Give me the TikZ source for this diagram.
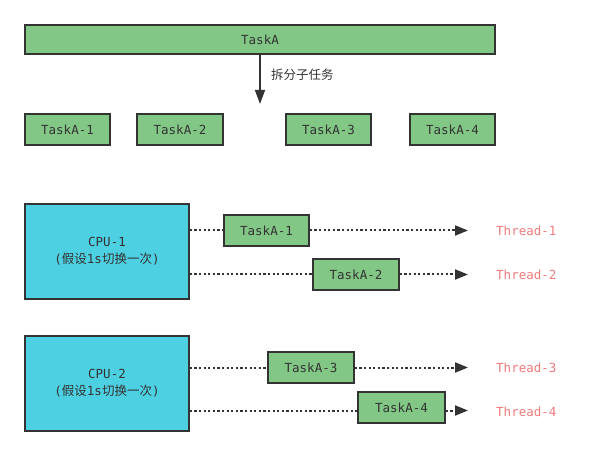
\documentclass[tikz,border=0pt]{standalone}
\usepackage{fontspec}
\setmonofont{DejaVu Sans Mono}
\newfontfamily\cjk{Noto Sans CJK SC}
\usetikzlibrary{arrows.meta}
\definecolor{tgreen}{HTML}{82C785}
\definecolor{tcyan}{HTML}{4DD0E1}
\definecolor{tdark}{HTML}{333333}
\definecolor{tred}{HTML}{EE7A7A}
\begin{document}
\begin{tikzpicture}[x=1pt,y=-1pt,
  box/.style={draw=tdark,line width=1.5pt,fill=tgreen,inner sep=0pt,
    font=\fontsize{12.5}{14}\selectfont\ttfamily,text=tdark},
  cpubox/.style={draw=tdark,line width=1.5pt,fill=tcyan,inner sep=0pt,
    font=\fontsize{12.5}{17}\selectfont\ttfamily,text=tdark,align=center},
  thr/.style={font=\fontsize{12.5}{14}\selectfont\ttfamily,text=tred,anchor=west,inner sep=0pt},
  dline/.style={draw=tdark,line width=2pt,dash pattern=on 2.2pt off 2.4pt},
  tip/.style={-{Triangle[length=13pt,width=10pt]}}
]
\useasboundingbox (0,0) rectangle (611,457);
% top
\node[box,minimum width=470pt,minimum height=29pt] (A) at (260,39.5) {TaskA};
\coordinate (Ad) at (260,104);
\draw[tdark,line width=1.5pt,-{Triangle[length=14pt,width=10pt]}] (A.south) -- (Ad);
\node[anchor=west,inner sep=0pt,text=tdark,font=\fontsize{12.5}{14}\selectfont\cjk] (split) at (271,75) {拆分子任务};
\node[box,minimum width=85pt,minimum height=31pt] (s1) at (67.5,129.5) {TaskA-1};
\node[box,minimum width=86pt,minimum height=31pt] (s2) at (180,129.5) {TaskA-2};
\node[box,minimum width=85pt,minimum height=31pt] (s3) at (328.5,129.5) {TaskA-3};
\node[box,minimum width=85pt,minimum height=31pt] (s4) at (452.5,129.5) {TaskA-4};
% CPU 1
\node[cpubox,minimum width=164pt,minimum height=95pt] (c1) at (107,251.5) {CPU-1\\({\cjk 假设}1s{\cjk 切换一次})};
\node[box,minimum width=85pt,minimum height=31pt] (t1) at (266.5,230.5) {TaskA-1};
\node[box,minimum width=86pt,minimum height=31pt] (t2) at (356,274.5) {TaskA-2};
\coordinate (e1) at (468,230.5);
\coordinate (e2) at (468,274.5);
\node[thr] (th1) at (496,231) {Thread-1};
\node[thr] (th2) at (496,275) {Thread-2};
\draw[dline] (c1.east |- t1.west) -- (t1.west);
\draw[dline,tip] (t1.east) -- (e1);
\draw[dline] (c1.east |- t2.west) -- (t2.west);
\draw[dline,tip] (t2.east) -- (e2);
% CPU 2
\node[cpubox,minimum width=164pt,minimum height=95pt] (c2) at (107,383.5) {CPU-2\\({\cjk 假设}1s{\cjk 切换一次})};
\node[box,minimum width=86pt,minimum height=31pt] (t3) at (311,367.5) {TaskA-3};
\node[box,minimum width=87pt,minimum height=31pt] (t4) at (401.5,407.5) {TaskA-4};
\coordinate (e3) at (468,367.5);
\coordinate (e4) at (468,410.5);
\node[thr] (th3) at (496,368) {Thread-3};
\node[thr] (th4) at (496,412) {Thread-4};
\draw[dline] (c2.east |- t3.west) -- (t3.west);
\draw[dline,tip] (t3.east) -- (e3);
\draw[dline] (c2.east |- e4) -- (t4.west |- e4);
\draw[dline,tip] (t4.east |- e4) -- (e4);
\end{tikzpicture}
\end{document}
